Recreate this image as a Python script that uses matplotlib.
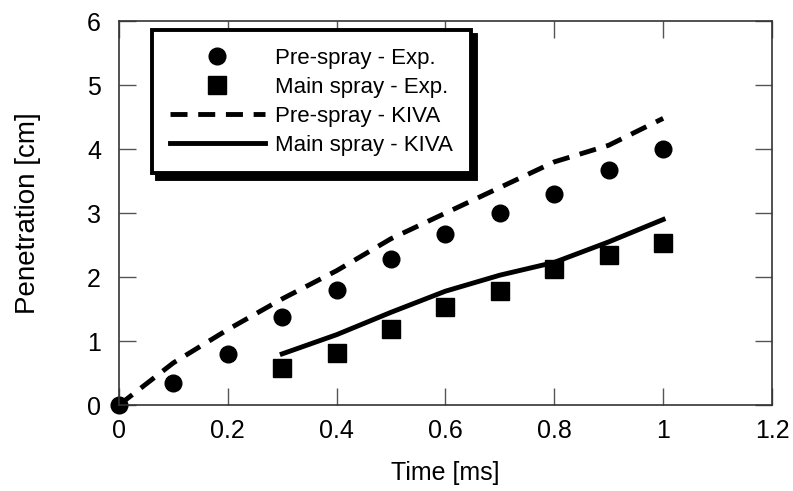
import matplotlib
matplotlib.use("Agg")
import matplotlib.pyplot as plt
from matplotlib.patches import Shadow

plt.rcParams['font.family'] = ['Liberation Sans', 'DejaVu Sans']

# experimental points
t_pre_exp = [0.0, 0.1, 0.2, 0.3, 0.4, 0.5, 0.6, 0.7, 0.8, 0.9, 1.0]
pen_pre_exp = [0.0, 0.35, 0.8, 1.38, 1.8, 2.28, 2.68, 3.0, 3.3, 3.68, 4.0]
t_main_exp = [0.3, 0.4, 0.5, 0.6, 0.7, 0.8, 0.9, 1.0]
pen_main_exp = [0.58, 0.82, 1.19, 1.53, 1.79, 2.13, 2.34, 2.54]

# KIVA simulations
t_pre_kiva = [0.0, 0.1, 0.2, 0.3, 0.4, 0.5, 0.6, 0.7, 0.8, 0.9, 1.0]
pen_pre_kiva = [0.0, 0.66, 1.18, 1.66, 2.1, 2.6, 3.0, 3.4, 3.8, 4.06, 4.48]
t_main_kiva = [0.3, 0.4, 0.5, 0.6, 0.7, 0.8, 0.9, 1.0]
pen_main_kiva = [0.8, 1.1, 1.45, 1.78, 2.03, 2.23, 2.55, 2.9]

fig = plt.figure(figsize=(7.93, 4.91), dpi=100)
ax = fig.add_axes([0.150, 0.175, 0.8235, 0.782])

ax.plot(t_pre_exp, pen_pre_exp, 'o', color='black', markersize=12, clip_on=False,
        label='Pre-spray - Exp.')
ax.plot(t_main_exp, pen_main_exp, 's', color='black', markersize=12.5, clip_on=False,
        label='Main spray - Exp.')
ax.plot(t_pre_kiva, pen_pre_kiva, color='black', linewidth=3.5, dashes=(3.5, 2.2),
        label='Pre-spray - KIVA')
ax.plot(t_main_kiva, pen_main_kiva, color='black', linewidth=3.5, label='Main spray - KIVA')

ax.set_xlim(0, 1.2)
ax.set_ylim(0, 6)
ax.set_xticks([0, 0.2, 0.4, 0.6, 0.8, 1, 1.2])
ax.set_xticklabels(['0', '0.2', '0.4', '0.6', '0.8', '1', '1.2'])
ax.set_yticks([0, 1, 2, 3, 4, 5, 6])
ax.tick_params(direction='in', length=12, width=1, color='#555555', labelsize=18,
               top=True, right=True)
ax.tick_params(axis='x', pad=10)
ax.tick_params(axis='y', pad=13)
for s in ax.spines.values():
    s.set_color('#333333')
    s.set_linewidth(1.2)
ax.set_xlabel('Time [ms]', fontsize=18, labelpad=13)
ax.set_ylabel('Penetration [cm]', fontsize=20)
ax.yaxis.set_label_coords(-0.12, 0.5)

leg = ax.legend(loc='upper left', bbox_to_anchor=(0.0505, 0.977), fontsize=16,
                frameon=True, fancybox=False, edgecolor='black', framealpha=1,
                handlelength=4.3, handletextpad=0.45, labelspacing=0.36,
                borderpad=0.8, borderaxespad=0)
leg.get_frame().set_linewidth(2.8)

# solid black drop shadow behind the legend box
sh = Shadow(leg.legendPatch, 3.5, -4, color='black', alpha=1)
sh.set_zorder(leg.get_zorder() - 0.1)
ax.add_artist(sh)

fig.canvas.draw()
fig.savefig('out.png', dpi=100)
